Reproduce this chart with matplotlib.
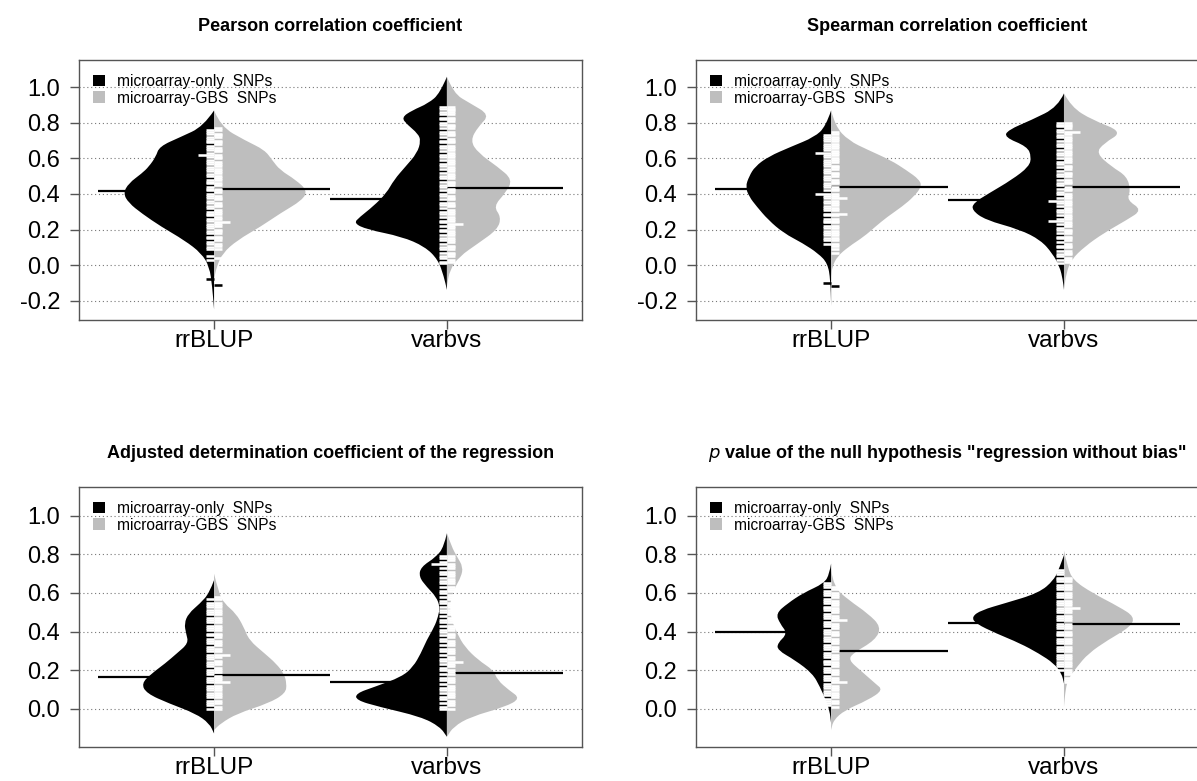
import numpy as np
import matplotlib
matplotlib.use("Agg")
import matplotlib.pyplot as plt
from matplotlib.patches import Patch, PathPatch
from matplotlib.path import Path

plt.rcParams['font.family'] = ['Liberation Sans', 'DejaVu Sans']

methods = ['rrBLUP', 'varbvs']
groups = ['microarray-only  SNPs', 'microarray-GBS  SNPs']
titles = ['Pearson correlation coefficient',
          'Spearman correlation coefficient',
          'Adjusted determination coefficient of the regression',
          r'$p$ value of the null hypothesis "regression without bias"']

# bean outlines: (value, half width in x units)
pear_rr_only_shape = [(0.87, 0), (0.78, 0.046), (0.72, 0.145), (0.667, 0.235), (0.61, 0.25), (0.554, 0.28),
                      (0.516, 0.31), (0.46, 0.367), (0.404, 0.39), (0.35, 0.367), (0.29, 0.31), (0.216, 0.227),
                      (0.14, 0.128), (0.066, 0.054), (-0.01, 0.02), (-0.12, 0.008), (-0.25, 0)]
pear_rr_gbs_shape = [(0.87, 0), (0.78, 0.028), (0.70, 0.135), (0.648, 0.217), (0.59, 0.25), (0.535, 0.283),
                     (0.48, 0.35), (0.42, 0.40), (0.366, 0.38), (0.29, 0.283), (0.216, 0.2), (0.14, 0.10),
                     (0.066, 0.036), (-0.01, 0.011), (-0.08, 0)]
pear_vb_only_shape = [(1.06, 0), (0.966, 0.03), (0.91, 0.08), (0.87, 0.15), (0.83, 0.195), (0.79, 0.17),
                      (0.74, 0.125), (0.70, 0.112), (0.63, 0.128), (0.554, 0.178), (0.48, 0.227), (0.404, 0.26),
                      (0.33, 0.317), (0.27, 0.375), (0.235, 0.40), (0.2, 0.342), (0.16, 0.194), (0.104, 0.095),
                      (0.03, 0.038), (-0.065, 0.013), (-0.14, 0)]
pear_vb_gbs_shape = [(1.06, 0), (0.966, 0.028), (0.91, 0.10), (0.845, 0.184), (0.78, 0.135), (0.70, 0.10),
                     (0.63, 0.135), (0.554, 0.217), (0.48, 0.283), (0.404, 0.25), (0.33, 0.2), (0.27, 0.233),
                     (0.2, 0.217), (0.123, 0.135), (0.048, 0.053), (-0.027, 0.012), (-0.12, 0)]

spear_rr_only_shape = [(0.87, 0), (0.78, 0.023), (0.72, 0.072), (0.667, 0.17), (0.61, 0.27), (0.554, 0.327),
                       (0.5, 0.352), (0.44, 0.368), (0.385, 0.352), (0.33, 0.32), (0.254, 0.27), (0.18, 0.204),
                       (0.123, 0.122), (0.066, 0.056), (0.01, 0.015), (-0.084, 0.003), (-0.23, 0)]
spear_rr_gbs_shape = [(0.87, 0), (0.78, 0.018), (0.70, 0.076), (0.648, 0.158), (0.59, 0.256), (0.535, 0.322),
                      (0.48, 0.38), (0.44, 0.388), (0.385, 0.355), (0.33, 0.306), (0.27, 0.24), (0.216, 0.19),
                      (0.16, 0.141), (0.104, 0.076), (0.048, 0.026), (-0.01, 0.005), (-0.065, 0)]
spear_vb_only_shape = [(0.966, 0), (0.89, 0.026), (0.816, 0.14), (0.76, 0.24), (0.72, 0.256), (0.667, 0.158),
                       (0.61, 0.14), (0.554, 0.15), (0.48, 0.224), (0.404, 0.322), (0.35, 0.388), (0.31, 0.396),
                       (0.254, 0.338), (0.2, 0.19), (0.14, 0.1), (0.066, 0.05), (-0.01, 0.018), (-0.084, 0.005),
                       (-0.14, 0)]
spear_vb_gbs_shape = [(0.966, 0), (0.89, 0.031), (0.816, 0.122), (0.75, 0.253), (0.685, 0.171), (0.63, 0.138),
                      (0.554, 0.204), (0.5, 0.27), (0.42, 0.286), (0.366, 0.27), (0.31, 0.336), (0.254, 0.27),
                      (0.18, 0.171), (0.104, 0.089), (0.03, 0.031), (-0.046, 0.01), (-0.14, 0)]

adj_rr_only_shape = [(0.667, 0), (0.6, 0.02), (0.546, 0.06), (0.494, 0.11), (0.442, 0.128), (0.39, 0.12),
                     (0.34, 0.11), (0.287, 0.16), (0.235, 0.21), (0.183, 0.268), (0.131, 0.312), (0.08, 0.29),
                     (0.028, 0.194), (-0.024, 0.08), (-0.076, 0.02), (-0.128, 0)]
adj_rr_gbs_shape = [(0.70, 0), (0.6, 0.02), (0.546, 0.044), (0.494, 0.094), (0.425, 0.127), (0.356, 0.15),
                    (0.287, 0.217), (0.235, 0.266), (0.183, 0.3), (0.131, 0.312), (0.08, 0.307), (0.028, 0.233),
                    (-0.024, 0.1), (-0.076, 0.028), (-0.11, 0)]
adj_vb_only_shape = [(0.91, 0), (0.84, 0.013), (0.787, 0.046), (0.735, 0.112), (0.684, 0.12), (0.632, 0.087),
                     (0.58, 0.046), (0.528, 0.03), (0.477, 0.038), (0.425, 0.054), (0.356, 0.087), (0.287, 0.112),
                     (0.218, 0.145), (0.166, 0.194), (0.114, 0.31), (0.08, 0.39), (0.045, 0.39), (0.01, 0.29),
                     (-0.041, 0.112), (-0.093, 0.03), (-0.145, 0)]
adj_vb_gbs_shape = [(0.91, 0), (0.84, 0.02), (0.787, 0.044), (0.735, 0.069), (0.684, 0.061), (0.632, 0.036),
                    (0.58, 0.02), (0.528, 0.012), (0.46, 0.02), (0.39, 0.044), (0.32, 0.077), (0.252, 0.135),
                    (0.2, 0.2), (0.149, 0.217), (0.097, 0.266), (0.054, 0.316), (0.01, 0.25), (-0.041, 0.102),
                    (-0.093, 0.028), (-0.145, 0)]

pval_rr_only_shape = [(0.753, 0), (0.70, 0.007), (0.65, 0.03), (0.6, 0.12), (0.546, 0.187), (0.494, 0.237),
                      (0.442, 0.22), (0.39, 0.187), (0.34, 0.23), (0.304, 0.23), (0.252, 0.155), (0.183, 0.08),
                      (0.114, 0.048), (0.045, 0.023), (-0.007, 0.007), (-0.076, 0)]
pval_rr_gbs_shape = [(0.72, 0), (0.632, 0.01), (0.563, 0.076), (0.494, 0.158), (0.425, 0.215), (0.356, 0.19),
                     (0.287, 0.092), (0.252, 0.076), (0.2, 0.125), (0.131, 0.19), (0.097, 0.223), (0.045, 0.158),
                     (-0.007, 0.059), (-0.059, 0.01), (-0.11, 0)]
pval_vb_only_shape = [(0.796, 0), (0.735, 0.018), (0.667, 0.043), (0.6, 0.108), (0.546, 0.256), (0.511, 0.355),
                      (0.477, 0.396), (0.442, 0.38), (0.39, 0.29), (0.34, 0.19), (0.287, 0.108), (0.235, 0.043),
                      (0.183, 0.01), (0.131, 0)]
pval_vb_gbs_shape = [(0.82, 0), (0.735, 0.015), (0.667, 0.039), (0.6, 0.122), (0.528, 0.237), (0.477, 0.303),
                     (0.425, 0.286), (0.356, 0.188), (0.287, 0.105), (0.218, 0.056), (0.149, 0.015), (0.08, 0.005),
                     (0.01, 0)]

# single observations (x 0.01) drawn as bean lines
pear_rr_only_rug = [76, 75, 74, 72, 71, 70, 69, 67, 66, 65, 63, 62, 62, 61, 59, 58, 57, 55, 54, 53, 51, 50, 48, 47,
                    46, 44, 43, 42, 40, 39, 38, 36, 35, 33, 32, 30, 29, 28, 26, 25, 23, 22, 21, 19, 18, 16, 15, 13,
                    12, 10, 9, 5, 3, -8]
pear_rr_gbs_rug = [77, 76, 74, 73, 72, 70, 69, 68, 66, 65, 64, 62, 61, 60, 58, 57, 56, 54, 53, 52, 50, 49, 48, 46,
                   45, 43, 42, 41, 39, 38, 37, 35, 34, 33, 31, 30, 29, 27, 26, 24, 24, 23, 22, 20, 19, 18, 16, 15,
                   14, 12, 11, 9, 4, -11]
pear_vb_only_rug = [89, 88, 86, 85, 83, 82, 80, 79, 77, 75, 74, 72, 70, 69, 67, 66, 64, 62, 61, 59, 57, 56, 54, 52,
                    50, 49, 47, 45, 44, 42, 40, 39, 37, 35, 34, 32, 30, 29, 27, 25, 24, 22, 20, 19, 17, 15, 14, 12,
                    10, 9, 7, 5, 4, 2, 1]
pear_vb_gbs_rug = [89, 88, 87, 86, 85, 83, 82, 81, 79, 78, 77, 75, 74, 73, 71, 70, 69, 67, 66, 65, 63, 62, 61, 59,
                   58, 57, 55, 54, 53, 51, 50, 49, 47, 46, 45, 43, 42, 41, 39, 38, 37, 35, 34, 33, 31, 30, 29, 27,
                   26, 25, 23, 23, 22, 21, 19, 18, 17, 15, 14, 13, 11, 10, 9, 7, 6, 5, 3, 2]

spear_rr_only_rug = [73, 72, 71, 70, 68, 67, 66, 65, 63, 63, 62, 61, 59, 58, 57, 56, 54, 53, 52, 50, 49, 48, 46, 45,
                     44, 42, 40, 40, 39, 38, 36, 35, 33, 32, 31, 29, 28, 26, 25, 24, 22, 21, 19, 18, 17, 15, 14, 12,
                     -10]
spear_rr_gbs_rug = [75, 74, 72, 71, 70, 68, 67, 66, 64, 63, 62, 60, 59, 58, 56, 55, 54, 52, 51, 50, 48, 47, 46, 44,
                    43, 42, 40, 39, 38, 38, 36, 35, 34, 32, 31, 29, 29, 28, 26, 25, 24, 22, 21, 19, 18, 17, 15, 14,
                    12, 11, 9, 7, -12]
spear_vb_only_rug = [80, 79, 78, 76, 75, 73, 72, 70, 68, 67, 65, 63, 62, 60, 58, 57, 55, 53, 51, 50, 48, 46, 45, 43,
                     41, 40, 38, 36, 36, 35, 33, 31, 30, 28, 26, 25, 25, 23, 21, 20, 18, 16, 15, 13, 11, 10, 8, 6,
                     5, 3, 1]
spear_vb_gbs_rug = [80, 79, 78, 77, 75, 75, 74, 72, 71, 70, 68, 67, 66, 64, 63, 62, 60, 59, 58, 56, 55, 54, 52, 51,
                    50, 48, 47, 46, 44, 43, 42, 40, 39, 38, 36, 35, 34, 32, 31, 30, 28, 27, 26, 24, 23, 22, 20, 19,
                    18, 16, 15, 14, 12, 11, 10, 8, 7, 6, 4, 3, 2]

adj_rr_only_rug = [57, 55, 54, 53, 51, 50, 49, 47, 46, 45, 43, 42, 41, 39, 38, 36, 35, 34, 32, 31, 30, 28, 27, 26,
                   24, 23, 22, 20, 19, 18, 16, 15, 14, 12, 11, 10, 8, 7, 6, 4, 3, 2, 0]
adj_rr_gbs_rug = [58, 57, 55, 54, 53, 51, 50, 49, 47, 46, 45, 43, 42, 41, 39, 38, 37, 35, 34, 33, 31, 30, 28, 28,
                  27, 25, 24, 23, 21, 20, 19, 17, 16, 15, 14, 14, 12, 11, 10, 8, 7, 6, 4, 3, 1, 0]
adj_vb_only_rug = [79, 78, 76, 75, 75, 73, 71, 70, 68, 66, 65, 63, 61, 60, 58, 56, 55, 53, 51, 50, 48, 46, 45, 43,
                   41, 40, 38, 36, 35, 33, 31, 30, 28, 26, 25, 23, 21, 20, 18, 16, 15, 13, 11, 10, 8, 6, 5, 3,
                   1, 0]
adj_vb_gbs_rug = [79, 78, 77, 75, 74, 73, 71, 70, 69, 67, 66, 65, 63, 62, 61, 59, 58, 57, 55, 54, 53, 51, 50, 49,
                  47, 46, 46, 45, 43, 42, 41, 39, 38, 37, 35, 34, 33, 31, 30, 29, 27, 26, 24, 24, 23, 22, 20, 19,
                  18, 16, 15, 14, 12, 11, 10, 8, 7, 6, 4, 3, 2, 0]

pval_rr_only_rug = [65, 64, 63, 61, 60, 59, 57, 56, 55, 53, 52, 51, 49, 48, 47, 45, 44, 43, 41, 40, 39, 37, 36, 35,
                    33, 32, 31, 29, 28, 27, 25, 24, 23, 21, 20, 19, 17, 16, 15, 13, 12, 11, 9, 8, 7, 5, 4, 3, 2]
pval_rr_gbs_rug = [63, 62, 60, 59, 58, 56, 55, 54, 52, 51, 50, 48, 47, 46, 46, 44, 43, 42, 40, 39, 38, 36, 35, 34,
                   32, 31, 30, 28, 27, 26, 24, 23, 22, 20, 19, 18, 16, 15, 14, 14, 12, 11, 10, 8, 7, 6, 4, 3, 1]
pval_vb_only_rug = [72, 71, 70, 68, 67, 66, 64, 63, 62, 60, 59, 58, 56, 55, 54, 52, 51, 50, 48, 47, 46, 44, 43, 42,
                    40, 39, 38, 36, 35, 34, 32, 31, 30, 28, 27, 26, 24, 23, 22, 20]
pval_vb_gbs_rug = [68, 67, 66, 64, 63, 62, 60, 59, 58, 56, 55, 54, 52, 52, 51, 50, 48, 47, 46, 44, 43, 42, 40, 39,
                   38, 36, 35, 34, 32, 31, 30, 28, 27, 26, 24, 23, 22, 20, 19, 18, 16, 15, 14]

# bean averages: rrBLUP only, rrBLUP GBS, varbvs only, varbvs GBS
pear_means = [0.418, 0.426, 0.370, 0.435]
spear_means = [0.427, 0.440, 0.366, 0.441]
adj_means = [0.166, 0.174, 0.140, 0.183]
pval_means = [0.400, 0.299, 0.447, 0.440]

panels = [
    ([pear_rr_only_shape, pear_rr_gbs_shape, pear_vb_only_shape, pear_vb_gbs_shape],
     [pear_rr_only_rug, pear_rr_gbs_rug, pear_vb_only_rug, pear_vb_gbs_rug], pear_means),
    ([spear_rr_only_shape, spear_rr_gbs_shape, spear_vb_only_shape, spear_vb_gbs_shape],
     [spear_rr_only_rug, spear_rr_gbs_rug, spear_vb_only_rug, spear_vb_gbs_rug], spear_means),
    ([adj_rr_only_shape, adj_rr_gbs_shape, adj_vb_only_shape, adj_vb_gbs_shape],
     [adj_rr_only_rug, adj_rr_gbs_rug, adj_vb_only_rug, adj_vb_gbs_rug], adj_means),
    ([pval_rr_only_shape, pval_rr_gbs_shape, pval_vb_only_shape, pval_vb_gbs_shape],
     [pval_rr_only_rug, pval_rr_gbs_rug, pval_vb_only_rug, pval_vb_gbs_rug], pval_means),
]

fill_cols = ['black', '#bebebe']
box_col = '#555555'
ll = 0.034


def half_bean(ax, shape, c, side, color):
    # smooth outline: quadratic curves through the midpoints of the read points
    pts = [(c + side * w, y) for y, w in shape]
    verts = [(c, pts[0][1]), pts[0]]
    codes = [Path.MOVETO, Path.LINETO]
    for i in range(1, len(pts) - 1):
        mid = ((pts[i][0] + pts[i + 1][0]) / 2, (pts[i][1] + pts[i + 1][1]) / 2)
        verts += [pts[i], mid]
        codes += [Path.CURVE3, Path.CURVE3]
    verts += [pts[-1], (c, pts[-1][1]), (c, pts[0][1])]
    codes += [Path.LINETO, Path.LINETO, Path.CLOSEPOLY]
    ax.add_patch(PathPatch(Path(verts, codes), facecolor=color, edgecolor='none', zorder=2))


fig = plt.figure(figsize=(11.97, 7.81), dpi=100)
ax_pos = [(0.0660, 0.5903), (0.5815, 0.5903), (0.0660, 0.0435), (0.5815, 0.0435)]
title_y = [0.960, 0.960, 0.414, 0.414]
ylims = [(-0.309, 1.154), (-0.309, 1.154), (-0.198, 1.149), (-0.198, 1.149)]

for k, (shapes, rugs, means) in enumerate(panels):
    ax = fig.add_axes([ax_pos[k][0], ax_pos[k][1], 0.4202, 0.3329])
    ax.set_xlim(0.42, 2.58)
    ax.set_ylim(*ylims[k])
    ticks = np.arange(-0.2, 1.01, 0.2) if k < 2 else np.arange(0.0, 1.01, 0.2)
    ax.set_yticks(ticks)
    ax.set_yticklabels(['%.1f' % t for t in ticks], fontsize=17)
    ax.set_xticks([1, 2])
    ax.set_xticklabels(methods, fontsize=17.5)
    ax.tick_params(axis='both', length=6.5, width=1, color=box_col)
    ax.tick_params(axis='y', pad=7)
    ax.tick_params(axis='x', pad=1)
    for t in ticks:
        ax.axhline(t, color='#777777', lw=0.8, ls=(0, (1, 2.5)), zorder=0)
    for s in ax.spines.values():
        s.set_color(box_col)
        s.set_linewidth(1)

    for i in range(4):
        c = 1 + i // 2
        side = -1 if i % 2 == 0 else 1
        half_bean(ax, shapes[i], c, side, fill_cols[i % 2])

    for i in range(4):
        c = 1 + i // 2
        side = -1 if i % 2 == 0 else 1
        ax.plot([c, c + side * 0.5], [means[i], means[i]], color='black', lw=1.6, zorder=3,
                solid_capstyle='butt')

    for i in range(4):
        c = 1 + i // 2
        side = -1 if i % 2 == 0 else 1
        yy = np.array([p[0] for p in shapes[i]])[::-1]
        ww = np.array([p[1] for p in shapes[i]])[::-1]
        vals = np.array(rugs[i]) / 100.0
        uv, cnt = np.unique(vals, return_counts=True)
        for v, n in zip(uv, cnt):
            length = ll * n
            # lines in the thin tails stick out of the bean and show dark
            inside = np.interp(v, yy, ww) > 0.011 and v > -0.05
            col = 'white' if inside else 'black'
            ax.plot([c, c + side * length], [v, v], color=col, lw=1.85, zorder=4,
                    solid_capstyle='butt')

    handles = [Patch(facecolor=fill_cols[0], edgecolor='none'),
               Patch(facecolor=fill_cols[1], edgecolor='none')]
    ax.legend(handles, groups, loc='upper left', bbox_to_anchor=(0.0, 1.0), frameon=False,
              fontsize=11.2, handlelength=0.75, handleheight=0.75, handletextpad=0.8,
              labelspacing=0.1, borderaxespad=0.5)

    fig.text(ax_pos[k][0] + 0.2101, title_y[k], titles[k], ha='center', va='baseline',
             fontsize=13, fontweight='bold')

fig.savefig('out.png', dpi=100)
